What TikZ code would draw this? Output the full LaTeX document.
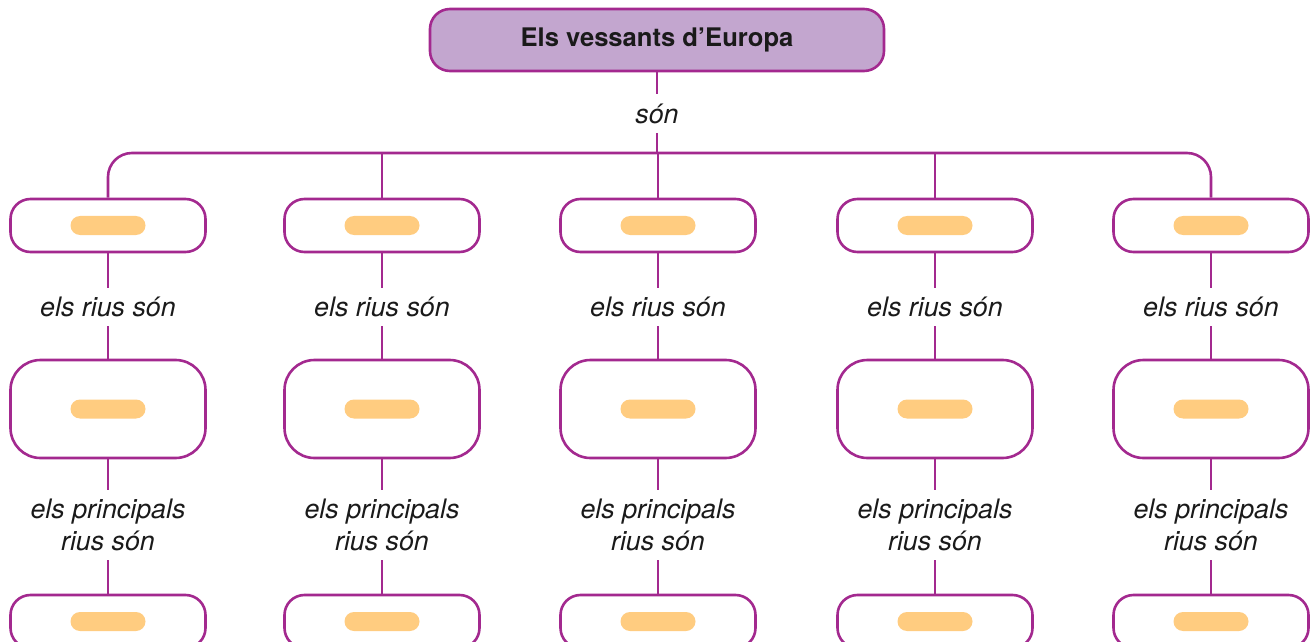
\documentclass[tikz,border=0pt]{standalone}
\usepackage{fontspec}
\setmainfont{TeX Gyre Heros}
\definecolor{linkpurple}{HTML}{A3298F}
\definecolor{titlefill}{HTML}{C3A6CF}
\definecolor{pillorange}{HTML}{FFCC80}
\definecolor{textdark}{HTML}{1A1A1A}

\begin{document}
\begin{tikzpicture}[x=0.5pt, y=-0.5pt,
    link/.style={draw=linkpurple, line width=1.3pt},
    titlebox/.style={draw=linkpurple, line width=1.3pt, fill=titlefill, rounded corners=10pt,
        minimum width=227pt, minimum height=31pt, inner sep=0pt,
        font=\fontsize{12.8}{15}\selectfont\bfseries, text=textdark},
    smallbox/.style={draw=linkpurple, line width=1.3pt, fill=white, rounded corners=10pt,
        minimum width=97.5pt, minimum height=26.5pt, inner sep=0pt},
    bigbox/.style={smallbox, rounded corners=15pt, minimum height=49pt},
    pill/.style={fill=pillorange, rounded corners=4.75pt, minimum width=37.5pt,
        minimum height=9.5pt, inner sep=0pt},
    verb/.style={font=\fontsize{13.4}{16}\selectfont\itshape, text=textdark,
        inner sep=0pt, minimum height=19pt},
    verbtwo/.style={verb, align=center, minimum height=35pt}]
    \useasboundingbox (0,0) rectangle (1313,642);
    % Define nodes
    \node[titlebox] (title) at (657,40) {Els vessants d’Europa};
    \node[verb] (son) at (657,113.5) {són};
    \coordinate (hub) at (657,153);
    \foreach \i/\x in {1/108,2/382,3/658,4/935,5/1211} {
        \node[smallbox] (r1-\i) at (\x,225.5) {};
        \node[pill] (p1-\i) at (r1-\i) {};
        \node[verb] (l1-\i) at (\x,307) {els rius són};
        \node[bigbox] (r2-\i) at (\x,409) {};
        \node[pill] (p2-\i) at (r2-\i) {};
        \node[verbtwo] (l2-\i) at (\x,525) {els principals\\rius són};
        \node[smallbox] (r3-\i) at (\x,621.5) {};
        \node[pill] (p3-\i) at (r3-\i) {};
        % Connect nodes
        \draw[link] (r1-\i) -- (l1-\i) (l1-\i) -- (r2-\i)
            (r2-\i) -- (l2-\i) (l2-\i) -- (r3-\i);
    }
    \draw[link] (title) -- (son) (son) -- (hub);
    \draw[link, rounded corners=12pt] (r1-1) |- (hub) -| (r1-5);
    \foreach \i in {2,3,4}
        \draw[link] (r1-\i) -- (r1-\i |- hub);
\end{tikzpicture}
\end{document}
